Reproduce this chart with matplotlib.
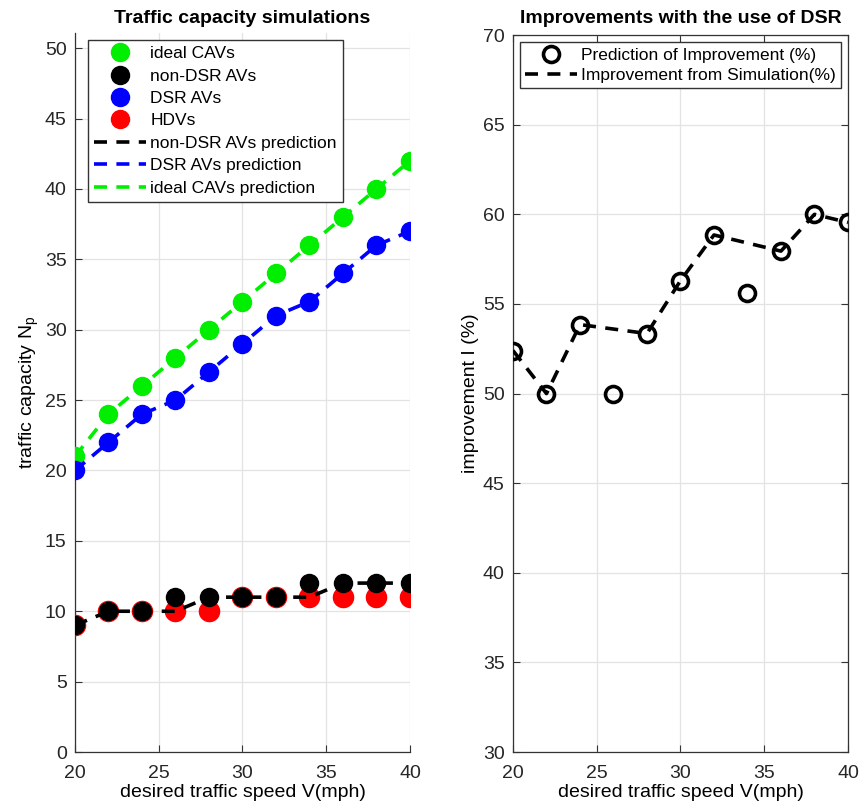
import matplotlib
matplotlib.use("Agg")
import matplotlib.pyplot as plt
import numpy as np
from matplotlib.lines import Line2D

speed = [20, 22, 24, 26, 28, 30, 32, 34, 36, 38, 40]
ideal_cav = [21, 24, 26, 28, 30, 32, 34, 36, 38, 40, 42]
non_dsr = [9, 10, 10, 11, 11, 11, 11, 12, 12, 12, 12]
dsr = [20, 22, 24, 25, 27, 29, 31, 32, 34, 36, 37]
hdv = [9, 10, 10, 10, 10, 11, 11, 11, 11, 11, 11]
non_dsr_pred = [9, 10, 10, 10, 11, 11, 11, 11, 12, 12, 12]
dsr_pred = [20, 22, 24, 25, 27, 29, 31, 32, 34, 36, 37]
ideal_pred = [21, 24, 26, 28, 30, 32, 34, 36, 38, 40, 42]

impr_pred = [52.4, 50.0, 53.85, 50.0, 53.35, 56.3, 58.85, 55.6, 57.95, 60.0, 59.55]
sim_speed = [20, 22, 24, 28, 30, 32, 36, 38, 40]
impr_sim = [52.4, 50.0, 53.85, 53.35, 56.3, 58.85, 57.95, 60.0, 59.55]

NARROW = ['Liberation Sans Narrow', 'Liberation Sans', 'DejaVu Sans']
REG = ['Liberation Sans', 'DejaVu Sans']
plt.rcParams['font.family'] = NARROW

fig = plt.figure(figsize=(8.6, 8.1), dpi=100)
ax1 = fig.add_axes([0.0872, 0.0716, 0.3895, 0.888])
ax2 = fig.add_axes([0.5965, 0.0716, 0.3895, 0.885])

dash = (0, (3.6, 2.6))
lw = 2.6
ms = 13
GREEN = '#00ee00'

ax1.plot(speed, hdv, 'o', color='red', ms=ms + 1.5, ls='none', zorder=3)
ax1.plot(speed, ideal_cav, 'o', color=GREEN, ms=ms, ls='none', zorder=3)
ax1.plot(speed, non_dsr, 'o', color='black', ms=ms, ls='none', zorder=4)
ax1.plot(speed, dsr, 'o', color='blue', ms=ms, ls='none', zorder=3)
ax1.plot(speed, non_dsr_pred, color='black', lw=lw, ls=dash, zorder=5)
ax1.plot(speed, dsr_pred, color='blue', lw=lw, ls=dash, zorder=5)
ax1.plot(speed, ideal_pred, color=GREEN, lw=lw, ls=dash, zorder=5)

handles = [
    Line2D([], [], marker='o', color=GREEN, ls='none', ms=ms),
    Line2D([], [], marker='o', color='black', ls='none', ms=ms),
    Line2D([], [], marker='o', color='blue', ls='none', ms=ms),
    Line2D([], [], marker='o', color='red', ls='none', ms=ms),
    Line2D([], [], color='black', lw=lw, ls=dash),
    Line2D([], [], color='blue', lw=lw, ls=dash),
    Line2D([], [], color=GREEN, lw=lw, ls=dash),
]
labels = ['ideal CAVs', 'non-DSR AVs', 'DSR AVs', 'HDVs',
          'non-DSR AVs prediction', 'DSR AVs prediction', 'ideal CAVs prediction']
leg1 = ax1.legend(handles, labels, loc='upper left', bbox_to_anchor=(0.038, 0.99),
                  prop={'family': REG, 'size': 12.5}, frameon=True, fancybox=False,
                  edgecolor='#333333', framealpha=1, handlelength=3.0, handletextpad=0.25,
                  labelspacing=0.42, borderpad=0.35, borderaxespad=0)
leg1.get_frame().set_linewidth(1.0)

ax1.set_xlim(20, 40)
ax1.set_ylim(0, 51.1)
ax1.set_xticks([20, 25, 30, 35, 40])
ax1.set_yticks(np.arange(0, 51, 5))
ax1.set_title('Traffic capacity simulations', fontweight='bold', fontsize=14, pad=7)
ax1.set_xlabel('desired traffic speed V(mph)', fontsize=14, labelpad=2)
ax1.set_ylabel('traffic capacity N$_\\mathregular{p}$', fontsize=14, labelpad=3)
ax1.spines['top'].set_visible(False)
ax1.spines['right'].set_visible(False)

ax2.plot(speed, impr_pred, 'o', mfc='none', mec='black', mew=2.6, ms=11.5, ls='none', zorder=4)
ax2.plot(sim_speed, impr_sim, color='black', lw=lw, ls=dash, zorder=3)
h2 = [Line2D([], [], marker='o', mfc='none', mec='black', mew=2.6, ms=11.5, ls='none'),
      Line2D([], [], color='black', lw=lw, ls=dash)]
leg2 = ax2.legend(h2, ['Prediction of Improvement (%)', 'Improvement from Simulation(%)'],
                  loc='upper right', bbox_to_anchor=(0.98, 0.99),
                  prop={'family': REG, 'size': 12.5}, frameon=True, fancybox=False,
                  edgecolor='#333333', framealpha=1, handlelength=3.0, handletextpad=0.25,
                  labelspacing=0.3, borderpad=0.3, borderaxespad=0)
leg2.get_frame().set_linewidth(1.0)
ax2.set_xlim(20, 40)
ax2.set_ylim(30, 70)
ax2.set_xticks([20, 25, 30, 35, 40])
ax2.set_yticks(np.arange(30, 71, 5))
ax2.set_title('Improvements with the use of DSR', fontweight='bold', fontsize=14, pad=9)
ax2.set_xlabel('desired traffic speed V(mph)', fontsize=14, labelpad=2)
ax2.set_ylabel('improvement I (%)', fontsize=14, labelpad=3)

for ax in (ax1, ax2):
    ax.grid(True, color='#e3e3e3', lw=0.9)
    ax.set_axisbelow(True)
    ax.tick_params(direction='in', labelsize=14, length=5, color='#333333',
                   labelcolor='#262626', top=(ax is ax2), right=(ax is ax2))
    ax.tick_params(axis='x', pad=9)
    ax.tick_params(axis='y', pad=6)
    for s in ax.spines.values():
        s.set_color('#333333')
        s.set_linewidth(0.9)

fig.savefig('out.png', dpi=100)
